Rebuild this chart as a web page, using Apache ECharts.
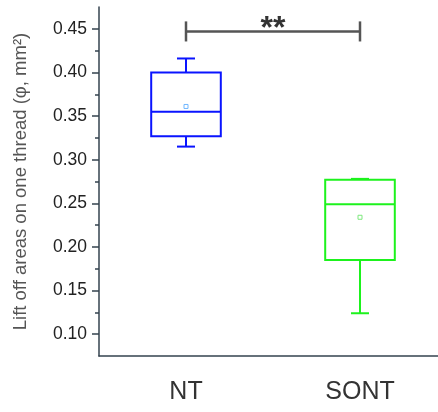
<!DOCTYPE html>
<html>
<head>
<meta charset="utf-8">
<script src="https://cdn.jsdelivr.net/npm/echarts@6/dist/echarts.min.js"></script>
<style>html,body{margin:0;padding:0;background:#fff}#c{width:438px;height:412px}</style>
</head>
<body>
<div id="c"></div>
<script>
const categories = ['NT', 'SONT'];
const whiskerLow = [0.315, 0.124];
const q1 = [0.327, 0.185];
const median = [0.355, 0.249];
const q3 = [0.400, 0.277];
const whiskerHigh = [0.416, 0.278];
const means = [0.361, 0.234];
const yMajorTicks = [0.10, 0.15, 0.20, 0.25, 0.30, 0.35, 0.40, 0.45];
const yMinorTicks = [0.125, 0.175, 0.225, 0.275, 0.325, 0.375, 0.425];
const yMin = 0.075, yMax = 0.475;
const sigLevel = 0.447;      // bracket height (data units)
const sigTickHalf = 0.0115;  // half height of bracket end bars
const sigText = '**';

const boxColors = ['#0a14ff', '#1df21d'];
const meanColors = ['#6fb6ff', '#7ee87e'];
const axisColor = '#34434f';

const chart = echarts.init(document.getElementById('c'), null, {renderer: 'canvas'});

const boxData = categories.map((c, i) => [i, whiskerLow[i], q1[i], median[i], q3[i], whiskerHigh[i], means[i]]);

function renderBox(params, api) {
  const i = api.value(0);
  const band = api.size([1, 0])[0];
  const half = band * 0.4 / 2;
  const capHalf = 9;
  const p = v => api.coord([i, v]);
  const lo = p(api.value(1)), b1 = p(api.value(2)), md = p(api.value(3)), b3 = p(api.value(4)), hi = p(api.value(5)), mn = p(api.value(6));
  const x = lo[0];
  const st = {stroke: boxColors[i], lineWidth: 2, fill: null};
  return {
    type: 'group',
    children: [
      {type: 'rect', shape: {x: x - half, y: b3[1], width: half * 2, height: b1[1] - b3[1]}, style: st},
      {type: 'line', shape: {x1: x - half, y1: md[1], x2: x + half, y2: md[1]}, style: st},
      {type: 'line', shape: {x1: x, y1: b3[1], x2: x, y2: hi[1]}, style: st},
      {type: 'line', shape: {x1: x, y1: b1[1], x2: x, y2: lo[1]}, style: st},
      {type: 'line', shape: {x1: x - capHalf, y1: hi[1], x2: x + capHalf, y2: hi[1]}, style: st},
      {type: 'line', shape: {x1: x - capHalf, y1: lo[1], x2: x + capHalf, y2: lo[1]}, style: st},
      {type: 'rect', shape: {x: mn[0] - 2, y: mn[1] - 2, width: 4, height: 4}, style: {stroke: meanColors[i], lineWidth: 1, fill: '#fff'}}
    ]
  };
}

function renderSig(params, api) {
  const a = api.coord([0, sigLevel]);
  const b = api.coord([1, sigLevel]);
  const t = api.coord([0, sigLevel + sigTickHalf])[1];
  const d = api.coord([0, sigLevel - sigTickHalf])[1];
  const st = {stroke: '#555', lineWidth: 2.5};
  return {
    type: 'group',
    children: [
      {type: 'line', shape: {x1: a[0], y1: a[1], x2: b[0], y2: b[1]}, style: st},
      {type: 'line', shape: {x1: a[0], y1: t, x2: a[0], y2: d}, style: st},
      {type: 'line', shape: {x1: b[0], y1: t, x2: b[0], y2: d}, style: st},
      {type: 'text', x: (a[0] + b[0]) / 2, y: a[1] - 18, style: {text: sigText, fill: '#333', font: 'bold 32px "Liberation Sans", Arial, sans-serif', align: 'center', verticalAlign: 'top'}}
    ]
  };
}

chart.setOption({
  animation: false,
  backgroundColor: '#fff',
  grid: {left: 99, top: 7, width: 348, bottom: 56, containLabel: false, outerBoundsMode: 'none'},
  xAxis: {
    type: 'category',
    data: categories,
    boundaryGap: true,
    axisLine: {lineStyle: {color: axisColor, width: 1.5}},
    axisTick: {alignWithLabel: true, length: 7, lineStyle: {color: axisColor, width: 1.5}},
    axisLabel: {margin: 24, fontSize: 25, color: '#333', fontFamily: '"Liberation Sans", Arial, sans-serif'},
    splitLine: {show: false}
  },
  yAxis: [{
    type: 'value',
    min: yMin, max: yMax,
    name: 'Lift off areas on one thread (\u03c6, mm\u00b2)',
    nameLocation: 'middle',
    nameGap: 69,
    nameTextStyle: {fontSize: 18.5, color: '#555', fontFamily: '"Liberation Sans", Arial, sans-serif'},
    axisLine: {show: true, lineStyle: {color: axisColor, width: 1.5}},
    axisTick: {show: true, length: 7, customValues: yMajorTicks, lineStyle: {color: axisColor, width: 1.5}},
    axisLabel: {customValues: yMajorTicks, margin: 12, fontSize: 17.5, color: '#222', fontFamily: '"Liberation Sans", Arial, sans-serif', formatter: v => v.toFixed(2)},
    splitLine: {show: false}
  }, {
    type: 'value',
    position: 'left',
    min: yMin, max: yMax,
    axisLine: {show: false},
    axisTick: {show: true, length: 4, customValues: yMinorTicks, lineStyle: {color: axisColor, width: 1.5}},
    axisLabel: {show: false},
    splitLine: {show: false}
  }],
  series: [{
    type: 'custom',
    renderItem: renderBox,
    data: boxData,
    encode: {x: 0, y: [1, 2, 3, 4, 5]},
    z: 3
  }, {
    type: 'custom',
    renderItem: renderSig,
    data: [[0, sigLevel]],
    encode: {x: 0, y: 1},
    z: 3
  }]
});
</script>
</body>
</html>
